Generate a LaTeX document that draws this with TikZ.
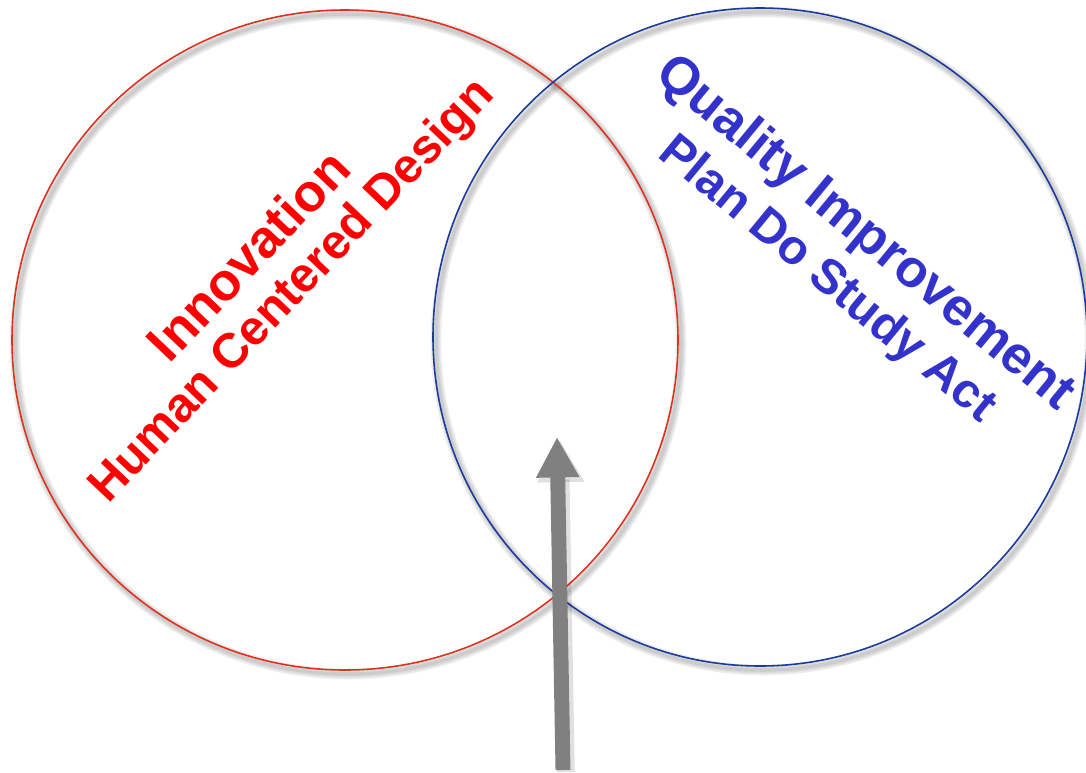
\documentclass[tikz,border=0pt]{standalone}
\usepackage{fontspec}
\setmainfont{Liberation Sans}
\usetikzlibrary{arrows.meta}
\definecolor{ringred}{HTML}{E0301E}
\definecolor{ringblue}{HTML}{1A3A9C}
\definecolor{txtred}{HTML}{FF0000}
\definecolor{txtblue}{HTML}{3333CC}
\definecolor{arrowgray}{HTML}{808080}
\tikzset{
  ring/.style={line width=0.9pt},
  ringshadow/.style={draw=black, opacity=0.07, line width=#1},
  title/.style={font=\fontsize{30}{36}\selectfont\bfseries, inner sep=0pt},
  subtitle/.style={font=\fontsize{27.6}{33}\selectfont\bfseries, inner sep=0pt},
  bigarrow/.style={draw=arrowgray, line width=8.5pt, -{Triangle[width=23pt,length=23pt]}},
}
\begin{document}
\begin{tikzpicture}[x=0.02cm,y=-0.02cm]
\useasboundingbox (0,0) rectangle (1086,772);
% shadows
\foreach \w in {2pt,4pt,6pt}{
  \draw[ringshadow=\w] (348,344) ellipse [x radius=333, y radius=330];
  \draw[ringshadow=\w] (763,341) ellipse [x radius=327, y radius=329];
}
\draw[ring, draw=ringred] (345,340) ellipse [x radius=333, y radius=330];
\draw[ring, draw=ringblue] (760,337) ellipse [x radius=327, y radius=329];
% texts
\node[title, text=txtred, rotate=46.5] (inno) at (248,255) {Innovation};
\node[subtitle, text=txtred, rotate=46.5] (hcd) at (293,292) {Human Centered Design};
\node[title, text=txtblue, rotate=-39.5] (qi) at (864,234) {Quality Improvement};
\node[subtitle, text=txtblue, rotate=-39.5] (pdsa) at (827,280) {Plan Do Study Act};
% arrow
\coordinate (abot) at (563,770);
\coordinate (atip) at (557,437);
\coordinate (abots) at (566,772);
\coordinate (atips) at (560,440);
\draw[bigarrow, draw=black, opacity=0.12, line width=10pt, -{Triangle[width=25pt,length=24pt]}] (abots) -- (atips);
\draw[bigarrow] (abot) -- (atip);
\end{tikzpicture}
\end{document}
